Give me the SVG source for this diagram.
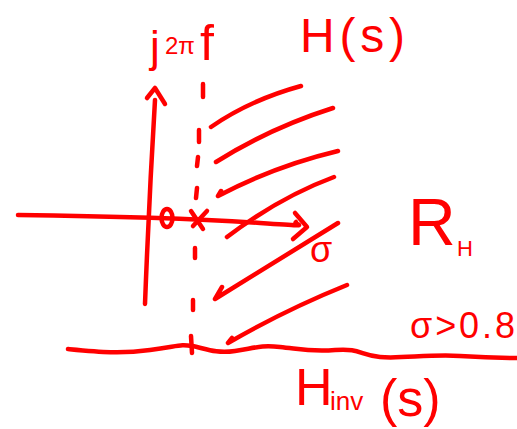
<svg xmlns="http://www.w3.org/2000/svg" width="517" height="429" viewBox="0 0 517 429">
<style>
.s{fill:none;stroke:#ff0000;stroke-width:4.5;stroke-linecap:round;stroke-linejoin:round}
.t{fill:#ff0000;font-family:"Liberation Sans","DejaVu Sans",sans-serif}
</style>
<rect width="517" height="429" fill="#ffffff"/>
<g id="axes">
<path class="s" d="M145,304 Q149,200 155,100"/>
<path class="s" d="M147,98 L155,88 L165,104"/>
<path class="s" d="M18,215 C100,216 200,219 260,223 S292,225 296,222"/>
<path class="s" d="M295,213 L307,227 L293,239"/>
<ellipse class="s" cx="167" cy="218" rx="5.5" ry="9"/>
<path class="s" d="M191,211 L203,229 M193,226 L207,211"/>
</g>
<g id="dashes">
<path class="s" d="M203,84 L203,97 M199,130 L199,142 M198,157 L197,166 M197,188 L196,198 M195,248 L195,258 M193,300 L193,310 M191,336 L192,353"/>
</g>
<g id="hatch">
<path class="s" d="M211,127 Q250,100 301,86"/>
<path class="s" d="M216,162 Q270,128 333,108"/>
<path class="s" d="M221,191 L218,196 Q275,166 338,151"/>
<path class="s" d="M227,237 Q280,197 334,177"/>
<path class="s" d="M222,287 L215,299 Q275,262 338,223"/>
<path class="s" d="M232,338 L228,343 Q285,310 347,285"/>
</g>
<g id="boundary">
<path class="s" d="M68,349 C100,352 120,354 150,350 S180,344 192,346 S215,354 235,351 S260,345 280,347 S310,352 335,350 S360,355 380,357 S430,354 460,356 S500,358 517,358"/>
</g>
<g id="labels">
<text class="t" x="150" y="62" font-size="44">j</text>
<text class="t" x="165" y="54" font-size="24">2π</text>
<text class="t" x="200" y="60" font-size="50">f</text>
<text class="t" x="300" y="52" font-size="48" textLength="105" lengthAdjust="spacing">H(s)</text>
<text class="t" x="310" y="262" font-size="36">σ</text>
<text class="t" x="408" y="245" font-size="66">R</text>
<text class="t" x="457" y="256" font-size="22">H</text>
<text class="t" x="410" y="338" font-size="36" textLength="105" lengthAdjust="spacing">σ&gt;0.8</text>
<text class="t" x="295" y="405" font-size="52">H</text>
<text class="t" x="330" y="410" font-size="26">inv</text>
<text class="t" x="380" y="416" font-size="52">(s)</text>
</g>
</svg>
